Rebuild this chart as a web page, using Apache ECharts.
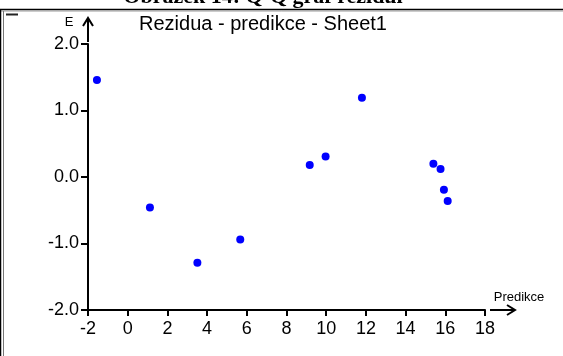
<!DOCTYPE html>
<html>
<head>
<meta charset="utf-8">
<script src="https://cdn.jsdelivr.net/npm/echarts@6/dist/echarts.min.js"></script>
<style>
html,body{margin:0;padding:0;background:#fff;}
#c{width:563px;height:356px;}
</style>
</head>
<body>
<div id="c"></div>
<script>
const predikce = [-1.55, 1.12, 3.51, 5.67, 9.17, 9.97, 11.80, 15.40, 15.76, 15.93, 16.12];
const rezidua  = [1.46, -0.46, -1.29, -0.94, 0.18, 0.31, 1.19, 0.20, 0.12, -0.19, -0.36];
const xTicks = [-2, 0, 2, 4, 6, 8, 10, 12, 14, 16, 18];
const yTicks = [-2.0, -1.0, 0.0, 1.0, 2.0];
const figureTitle = 'Obrázek 14: Q-Q graf reziduí';
const chartTitle = 'Rezidua - predikce - Sheet1';
const xName = 'Predikce';
const yName = 'E';

const FONT = 'Arial, "Liberation Sans", sans-serif';
const chart = echarts.init(document.getElementById('c'), null, {renderer: 'canvas'});
const points = predikce.map((x, i) => [x, rezidua[i]]);

chart.setOption({
  animation: false,
  backgroundColor: '#fff',
  grid: {left: 88, top: 44, right: 78, bottom: 46, containLabel: false},
  xAxis: {
    type: 'value', min: xTicks[0], max: xTicks[xTicks.length - 1], interval: 2,
    splitLine: {show: false},
    axisLine: {show: true, onZero: false, lineStyle: {color: '#000', width: 2}},
    axisTick: {show: true, inside: false, length: 6, lineStyle: {color: '#000', width: 2}},
    axisLabel: {color: '#000', fontFamily: FONT, fontSize: 18, margin: 10}
  },
  yAxis: {
    type: 'value', min: yTicks[0], max: yTicks[yTicks.length - 1], interval: 1,
    splitLine: {show: false},
    axisLine: {show: true, onZero: false, lineStyle: {color: '#000', width: 2}},
    axisTick: {show: true, inside: false, length: 7, lineStyle: {color: '#000', width: 2}},
    axisLabel: {color: '#000', fontFamily: FONT, fontSize: 18, margin: 9,
      formatter: v => v.toFixed(1)}
  },
  series: [{
    type: 'scatter',
    data: points,
    symbol: 'circle',
    symbolSize: 8,
    itemStyle: {color: '#0000ff', opacity: 1}
  }]
});

function px(v) { return chart.convertToPixel({gridIndex: 0}, v); }
const o = px([xTicks[0], yTicks[0]]);
const xe = px([xTicks[xTicks.length - 1], yTicks[0]]);
const ye = px([xTicks[0], yTicks[yTicks.length - 1]]);
const blk = {stroke: '#000', lineWidth: 2, fill: null};

chart.setOption({
  graphic: [
    // frame
    {type: 'line', shape: {x1: 0, y1: 9.5, x2: 563, y2: 9.5}, style: {stroke: '#000', lineWidth: 1.5}},
    {type: 'line', shape: {x1: 0, y1: 11, x2: 563, y2: 11}, style: {stroke: '#999', lineWidth: 1}},
    {type: 'line', shape: {x1: 0.5, y1: 9, x2: 0.5, y2: 356}, style: {stroke: '#000', lineWidth: 1.5}},
    {type: 'line', shape: {x1: 3.5, y1: 11, x2: 3.5, y2: 356}, style: {stroke: '#777', lineWidth: 1}},
    {type: 'line', shape: {x1: 6, y1: 14.5, x2: 18, y2: 14.5}, style: {stroke: '#222', lineWidth: 2}},
    // figure title (clipped at top)
    {type: 'text', x: 263, y: -3, style: {text: figureTitle, align: 'center', verticalAlign: 'middle',
      font: 'bold 22px "Times New Roman", "Liberation Serif", serif', fill: '#000'}},
    // chart title
    {type: 'text', x: 263, y: 24, style: {text: chartTitle, align: 'center', verticalAlign: 'middle',
      font: '20px ' + FONT, fill: '#000'}},
    // x arrow
    {type: 'polyline', shape: {points: [[xe[0] + 5, o[1]], [xe[0] + 30, o[1]]]}, style: blk},
    {type: 'polyline', shape: {points: [[xe[0] + 22, o[1] - 5], [xe[0] + 30, o[1]], [xe[0] + 22, o[1] + 5]]}, style: blk},
    // y arrow
    {type: 'polyline', shape: {points: [[ye[0], ye[1] - 2], [ye[0], ye[1] - 26]]}, style: blk},
    {type: 'polyline', shape: {points: [[ye[0] - 5, ye[1] - 18], [ye[0], ye[1] - 26], [ye[0] + 5, ye[1] - 18]]}, style: blk},
    // axis names
    {type: 'text', x: xe[0] + 34, y: o[1] - 13, style: {text: xName, align: 'center', verticalAlign: 'middle',
      font: '13px ' + FONT, fill: '#000'}},
    {type: 'text', x: ye[0] - 19, y: ye[1] - 22, style: {text: yName, align: 'center', verticalAlign: 'middle',
      font: '13px ' + FONT, fill: '#000'}}
  ]
});
</script>
</body>
</html>
